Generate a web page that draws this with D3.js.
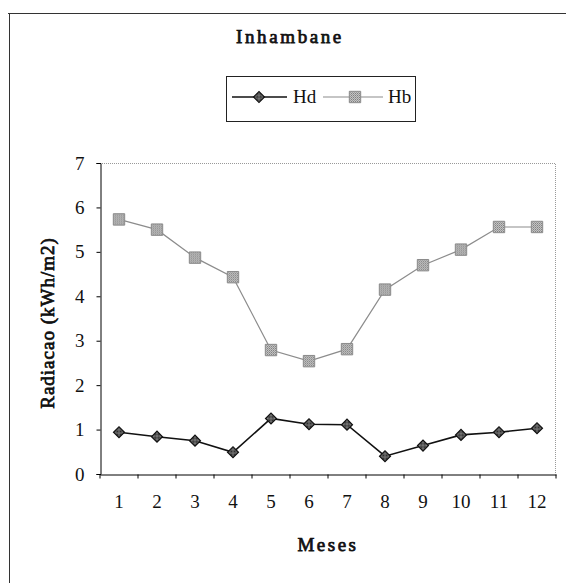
<!DOCTYPE html>
<html>
<head>
<meta charset="utf-8">
<script src="https://cdn.jsdelivr.net/npm/d3@7"></script>
<style>
  body { margin: 0; background: #fff; }
  text { font-family: "Liberation Serif", "Times New Roman", serif; fill: #111; }
  /* bold serif is faked with a thin stroke, the bold face falls back to a sans */
  .bold { stroke: #111; stroke-width: 0.75px; }
</style>
</head>
<body>
<svg id="chart" width="566" height="583"></svg>
<script>
// months on the x axis
const months = [1, 2, 3, 4, 5, 6, 7, 8, 9, 10, 11, 12];
// diffuse radiation (Hd) and beam radiation (Hb), kWh/m2
const hd = [0.94, 0.84, 0.75, 0.49, 1.25, 1.12, 1.11, 0.40, 0.64, 0.88, 0.94, 1.03];
const hb = [5.73, 5.50, 4.87, 4.43, 2.79, 2.54, 2.81, 4.15, 4.70, 5.05, 5.56, 5.56];
const yTicks = [0, 1, 2, 3, 4, 5, 6, 7];

const svg = d3.select('#chart');

// halftone fills for the markers (scanned look)
const defs = svg.append('defs');
const hbFill = defs.append('pattern').attr('id', 'hbFill')
  .attr('width', 2).attr('height', 2).attr('patternUnits', 'userSpaceOnUse');
hbFill.append('rect').attr('width', 2).attr('height', 2).attr('fill', '#c4c4c4');
hbFill.append('rect').attr('width', 1).attr('height', 1).attr('fill', '#808080');
hbFill.append('rect').attr('x', 1).attr('y', 1).attr('width', 1).attr('height', 1).attr('fill', '#9a9a9a');
const hdFill = defs.append('pattern').attr('id', 'hdFill')
  .attr('width', 2).attr('height', 2).attr('patternUnits', 'userSpaceOnUse');
hdFill.append('rect').attr('width', 2).attr('height', 2).attr('fill', '#888');
hdFill.append('rect').attr('width', 1).attr('height', 1).attr('fill', '#222');
hdFill.append('rect').attr('x', 1).attr('y', 1).attr('width', 1).attr('height', 1).attr('fill', '#333');

// outer frame (only top and left edges show in the picture)
svg.append('line').attr('x1', 8).attr('x2', 566).attr('y1', 13.5).attr('y2', 13.5)
  .attr('stroke', '#333').attr('stroke-width', 1);
svg.append('line').attr('x1', 9.5).attr('x2', 9.5).attr('y1', 13).attr('y2', 583)
  .attr('stroke', '#333').attr('stroke-width', 1);

// title
svg.append('text')
  .attr('class', 'bold')
  .attr('x', 290).attr('y', 43)
  .attr('text-anchor', 'middle')
  .style('font-size', '19px').style('letter-spacing', '2.6px')
  .text('Inhambane');

const x = d3.scaleBand().domain(months).range([100, 556]);
const y = d3.scaleLinear().domain([0, 7]).range([474, 163]);

// top and right edges of the plot, light dotted
svg.append('path')
  .attr('d', `M100,${y(7) + 0.5}H555.5V${y(0)}`)
  .attr('fill', 'none').attr('stroke', '#999').attr('stroke-dasharray', '1,1');

// y axis
const yAxis = svg.append('g')
  .attr('transform', 'translate(100.5,0)')
  .call(d3.axisLeft(y).tickValues(yTicks).tickFormat(d3.format('d')).tickSize(4).tickPadding(12));
yAxis.selectAll('text').style('font-size', '19px').style('font-family', '"Liberation Serif", serif');

// x axis: labels in the middle of each month, ticks between months
const xAxis = svg.append('g')
  .attr('transform', `translate(0,${y(0) + 0.5})`)
  .call(d3.axisBottom(x).tickSize(0).tickPadding(20));
xAxis.selectAll('text').style('font-size', '19px').style('font-family', '"Liberation Serif", serif');
xAxis.selectAll('.tick-edge')
  .data(months.concat([13]))
  .enter().append('line')
  .attr('class', 'tick-edge')
  .attr('x1', d => d === 13 ? 556 : x(d)).attr('x2', d => d === 13 ? 556 : x(d))
  .attr('y1', 0).attr('y2', 4)
  .attr('stroke', '#000');
svg.selectAll('.domain').attr('stroke', '#000');

// axis titles
svg.append('text')
  .attr('class', 'bold')
  .attr('transform', 'translate(54,323) rotate(-90)')
  .attr('text-anchor', 'middle')
  .style('font-size', '19px').style('letter-spacing', '1px')
  .text('Radiacao (kWh/m2)');

svg.append('text')
  .attr('class', 'bold')
  .attr('x', 328).attr('y', 551)
  .attr('text-anchor', 'middle')
  .style('font-size', '19px').style('letter-spacing', '2.5px')
  .text('Meses');

const cx = d => x(d) + x.bandwidth() / 2;

// Hb line + square markers
const hbLine = d3.line().x((d, i) => cx(months[i])).y(d => y(d));
svg.append('path').datum(hb)
  .attr('d', hbLine)
  .attr('fill', 'none').attr('stroke', '#8c8c8c').attr('stroke-width', 1.2);
svg.selectAll('.hb-mark').data(hb).enter().append('path')
  .attr('class', 'hb-mark')
  .attr('transform', (d, i) => `translate(${cx(months[i])},${y(d)})`)
  .attr('d', d3.symbol(d3.symbolSquare, 130))
  .attr('fill', 'url(#hbFill)').attr('stroke', '#8a8a8a');

// Hd line + diamond markers
const hdLine = d3.line().x((d, i) => cx(months[i])).y(d => y(d));
svg.append('path').datum(hd)
  .attr('d', hdLine)
  .attr('fill', 'none').attr('stroke', '#111').attr('stroke-width', 1.6);
svg.selectAll('.hd-mark').data(hd).enter().append('path')
  .attr('class', 'hd-mark')
  .attr('transform', (d, i) => `translate(${cx(months[i])},${y(d)}) rotate(45)`)
  .attr('d', d3.symbol(d3.symbolSquare, 60))
  .attr('fill', 'url(#hdFill)').attr('stroke', '#111').attr('stroke-width', 1.2);

// legend
const legend = svg.append('g');
legend.append('rect')
  .attr('x', 226.5).attr('y', 76.5).attr('width', 189).attr('height', 45)
  .attr('fill', '#fff').attr('stroke', '#222');
legend.append('line').attr('x1', 232).attr('x2', 287).attr('y1', 97).attr('y2', 97)
  .attr('stroke', '#111').attr('stroke-width', 1.6);
legend.append('path')
  .attr('transform', 'translate(259,97) rotate(45)')
  .attr('d', d3.symbol(d3.symbolSquare, 60))
  .attr('fill', 'url(#hdFill)').attr('stroke', '#111').attr('stroke-width', 1.2);
legend.append('text').attr('x', 293).attr('y', 103).style('font-size', '19px').text('Hd');
legend.append('line').attr('x1', 323).attr('x2', 383).attr('y1', 97).attr('y2', 97)
  .attr('stroke', '#8c8c8c').attr('stroke-width', 1.2);
legend.append('path')
  .attr('transform', 'translate(355,97)')
  .attr('d', d3.symbol(d3.symbolSquare, 130))
  .attr('fill', 'url(#hbFill)').attr('stroke', '#8a8a8a');
legend.append('text').attr('x', 388).attr('y', 103).style('font-size', '19px').text('Hb');
</script>
</body>
</html>
